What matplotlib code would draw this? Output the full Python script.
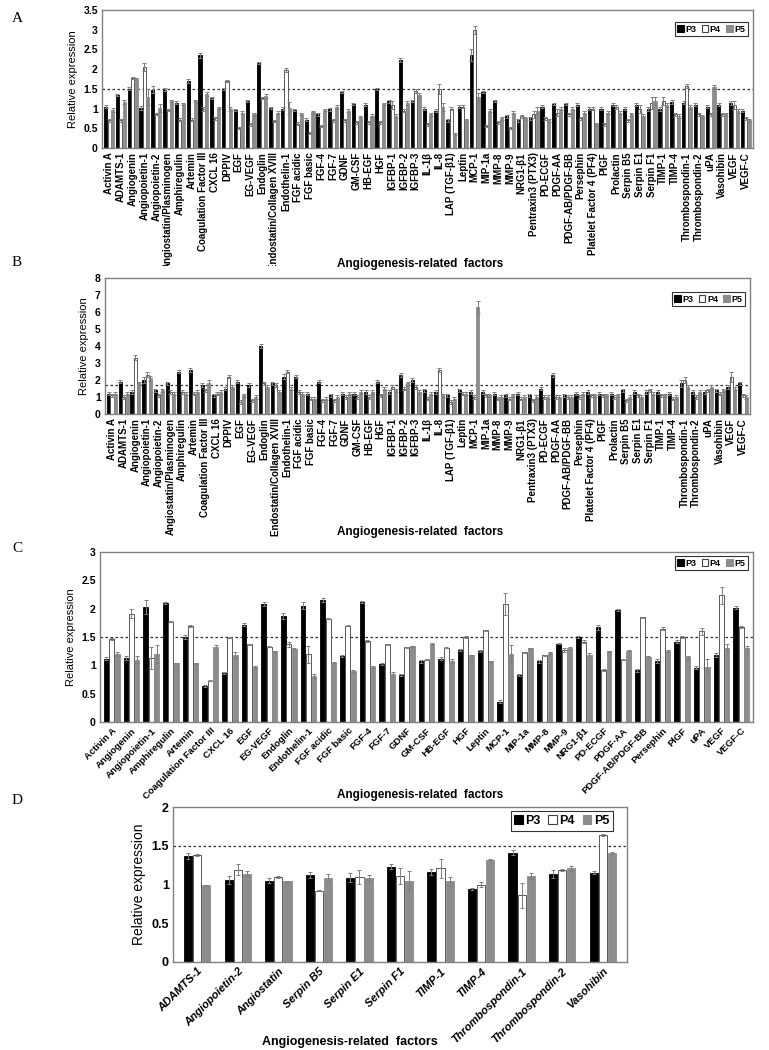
import matplotlib
matplotlib.use('Agg')
import matplotlib.pyplot as plt
import numpy as np
from matplotlib.patches import Patch
from matplotlib.transforms import Bbox, TransformedBbox
from matplotlib.ticker import FuncFormatter

plt.rc('font', family='Liberation Sans', weight='bold', size=7)

############################################
# Data
factors_ab = ['Activin A', 'ADAMTS-1', 'Angiogenin', 'Angiopoietin-1', 'Angiopoietin-2',
              'Angiostatin/Plasminogen', 'Amphiregulin', 'Artemin', 'Coagulation Factor III', 'CXCL 16',
              'DPPIV', 'EGF', 'EG-VEGF', 'Endoglin', 'Endostatin/Collagen XVIII',
              'Endothelin-1', 'FGF acidic', 'FGF basic', 'FGF-4', 'FGF-7',
              'GDNF', 'GM-CSF', 'HB-EGF', 'HGF', 'IGFBP-1',
              'IGFBP-2', 'IGFBP-3', 'IL-1β', 'IL-8', 'LAP (TGF-β1)',
              'Leptin', 'MCP-1', 'MIP-1a', 'MMP-8', 'MMP-9',
              'NRG1-β1', 'Pentraxin3 (PTX3)', 'PD-ECGF', 'PDGF-AA', 'PDGF-AB/PDGF-BB',
              'Persephin', 'Platelet Factor 4 (PF4)', 'PlGF', 'Prolactin', 'Serpin B5',
              'Serpin E1', 'Serpin F1', 'TIMP-1', 'TIMP-4', 'Thrombospondin-1',
              'Thrombospondin-2', 'uPA', 'Vasohibin', 'VEGF', 'VEGF-C']

a_p3 = [1.05, 1.35, 1.5, 1.02, 1.48, 1.48, 1.15, 1.7, 2.35, 1.27,
        1.5, 0.97, 1.2, 2.15, 1.02, 1.0, 0.97, 0.72, 0.85, 0.98,
        1.42, 1.12, 1.1, 1.5, 1.18, 2.22, 1.2, 1.0, 0.95, 0.7,
        1.05, 2.35, 1.42, 1.2, 0.8, 0.7, 0.75, 1.05, 1.12, 1.12,
        1.1, 1.0, 1.0, 1.1, 1.0, 1.1, 1.0, 1.0, 1.17, 1.15,
        1.1, 1.05, 1.1, 1.15, 0.95]
a_p4 = [0.7, 0.7, 1.77, 2.05, 0.87, 0.97, 0.72, 0.72, 1.0, 0.75,
        1.7, 0.5, 0.6, 1.27, 0.68, 1.97, 0.62, 0.38, 0.55, 0.7,
        0.7, 0.65, 0.65, 0.65, 1.08, 0.95, 1.45, 0.6, 1.5, 1.0,
        1.05, 3.0, 0.55, 0.65, 0.5, 0.8, 0.85, 0.75, 0.9, 0.85,
        0.75, 1.0, 0.6, 1.05, 0.7, 1.0, 1.15, 1.2, 0.85, 1.57,
        0.85, 0.85, 0.85, 1.1, 0.75]
a_p5 = [0.97, 1.17, 1.75, 1.3, 1.02, 1.2, 1.12, 1.2, 1.38, 1.02,
        1.0, 0.9, 0.85, 1.33, 0.9, 1.02, 0.87, 0.92, 0.97, 1.05,
        0.95, 0.78, 0.82, 1.12, 0.8, 1.15, 1.35, 0.85, 1.05, 0.35,
        0.7, 1.3, 0.95, 0.75, 0.9, 0.75, 0.95, 0.7, 1.0, 1.0,
        0.9, 0.6, 0.9, 0.9, 0.85, 0.8, 1.2, 1.1, 0.8, 1.05,
        0.8, 1.55, 0.85, 0.95, 0.7]
a_e3 = [0.03, 0.03, 0.04, 0.05, 0.08, 0.03, 0.03, 0.05, 0.07, 0.03,
        0.03, 0.02, 0.03, 0.03, 0.03, 0.03, 0.03, 0.03, 0.03, 0.03,
        0.03, 0.03, 0.03, 0.03, 0.03, 0.05, 0.03, 0.03, 0.03, 0.03,
        0.03, 0.15, 0.03, 0.03, 0.03, 0.03, 0.03, 0.03, 0.03, 0.03,
        0.03, 0.03, 0.03, 0.03, 0.03, 0.03, 0.05, 0.05, 0.05, 0.03,
        0.03, 0.03, 0.03, 0.05, 0.03]
a_e4 = [0.03, 0.03, 0.03, 0.1, 0.03, 0.03, 0.03, 0.03, 0.05, 0.03,
        0.03, 0.03, 0.03, 0.03, 0.03, 0.05, 0.03, 0.03, 0.03, 0.03,
        0.03, 0.03, 0.03, 0.03, 0.1, 0.03, 0.05, 0.03, 0.12, 0.03,
        0.03, 0.1, 0.03, 0.03, 0.03, 0.03, 0.1, 0.03, 0.1, 0.03,
        0.03, 0.03, 0.03, 0.05, 0.03, 0.1, 0.15, 0.1, 0.03, 0.05,
        0.03, 0.03, 0.03, 0.1, 0.03]
a_e5 = [0.05, 0.05, 0.03, 0.2, 0.1, 0.03, 0.03, 0.03, 0.05, 0.03,
        0.05, 0.03, 0.03, 0.05, 0.03, 0.15, 0.03, 0.03, 0.03, 0.05,
        0.03, 0.03, 0.03, 0.03, 0.05, 0.05, 0.05, 0.03, 0.1, 0.03,
        0.03, 0.1, 0.03, 0.03, 0.03, 0.03, 0.1, 0.03, 0.03, 0.03,
        0.03, 0.03, 0.03, 0.03, 0.03, 0.05, 0.1, 0.05, 0.05, 0.05,
        0.03, 0.05, 0.03, 0.05, 0.03]

b_p3 = [1.2, 1.9, 1.3, 2.0, 1.4, 1.8, 2.5, 2.6, 1.7, 1.1,
        1.5, 1.9, 1.7, 4.0, 1.8, 2.2, 2.2, 1.2, 1.9, 1.1,
        1.2, 1.2, 1.3, 1.9, 1.3, 2.3, 2.0, 1.4, 1.3, 1.1,
        1.4, 1.3, 1.3, 1.2, 1.1, 1.2, 1.1, 1.5, 2.3, 1.1,
        1.2, 1.3, 1.2, 1.2, 1.4, 1.3, 1.3, 1.3, 1.2, 1.8,
        1.3, 1.3, 1.4, 1.6, 1.8]
b_p4 = [1.1, 1.0, 3.3, 2.3, 1.1, 1.3, 1.3, 1.2, 1.4, 1.2,
        2.2, 0.7, 0.8, 1.8, 1.7, 2.5, 1.3, 0.9, 0.8, 0.8,
        1.0, 1.0, 1.0, 1.1, 1.6, 1.5, 1.6, 0.9, 2.6, 0.7,
        1.2, 1.0, 1.1, 0.9, 0.9, 0.9, 0.8, 1.0, 1.0, 1.0,
        1.0, 1.1, 1.1, 1.0, 0.8, 1.1, 1.4, 1.1, 0.9, 2.0,
        1.0, 1.4, 1.2, 2.2, 1.1]
b_p5 = [1.2, 1.2, 1.8, 2.1, 1.4, 1.2, 1.2, 1.3, 1.8, 1.3,
        1.6, 1.1, 1.0, 1.6, 1.3, 1.5, 1.2, 0.9, 0.9, 1.0,
        1.2, 1.3, 1.3, 1.5, 1.4, 1.8, 1.3, 1.2, 1.1, 0.9,
        1.2, 6.3, 1.1, 1.0, 1.1, 1.0, 1.0, 1.0, 1.0, 1.0,
        1.2, 1.1, 1.1, 1.1, 1.0, 1.0, 1.2, 1.1, 1.0, 1.6,
        1.3, 1.6, 1.4, 1.5, 1.0]
b_e3 = [0.1, 0.1, 0.1, 0.15, 0.1, 0.1, 0.1, 0.1, 0.1, 0.1,
        0.1, 0.1, 0.1, 0.1, 0.1, 0.15, 0.1, 0.1, 0.1, 0.1,
        0.1, 0.1, 0.1, 0.1, 0.1, 0.1, 0.1, 0.1, 0.1, 0.1,
        0.1, 0.1, 0.1, 0.1, 0.1, 0.1, 0.1, 0.1, 0.1, 0.1,
        0.1, 0.1, 0.1, 0.1, 0.1, 0.1, 0.1, 0.1, 0.1, 0.2,
        0.1, 0.1, 0.1, 0.1, 0.1]
b_e4 = [0.1, 0.1, 0.15, 0.15, 0.1, 0.1, 0.1, 0.1, 0.1, 0.1,
        0.1, 0.1, 0.1, 0.1, 0.1, 0.1, 0.1, 0.1, 0.1, 0.1,
        0.1, 0.1, 0.1, 0.1, 0.1, 0.1, 0.1, 0.1, 0.1, 0.1,
        0.1, 0.1, 0.1, 0.1, 0.1, 0.1, 0.1, 0.1, 0.1, 0.1,
        0.1, 0.1, 0.1, 0.1, 0.1, 0.1, 0.1, 0.1, 0.1, 0.2,
        0.1, 0.1, 0.1, 0.3, 0.1]
b_e5 = [0.1, 0.1, 0.1, 0.15, 0.1, 0.1, 0.1, 0.1, 0.2, 0.1,
        0.1, 0.1, 0.1, 0.1, 0.1, 0.1, 0.1, 0.1, 0.1, 0.1,
        0.1, 0.1, 0.1, 0.1, 0.1, 0.1, 0.1, 0.1, 0.1, 0.1,
        0.1, 0.35, 0.1, 0.1, 0.1, 0.1, 0.1, 0.1, 0.1, 0.1,
        0.1, 0.1, 0.1, 0.1, 0.1, 0.1, 0.1, 0.1, 0.1, 0.1,
        0.1, 0.1, 0.1, 0.1, 0.1]

factors_c = ['Activin A', 'Angiogenin', 'Angiopoietin-1', 'Amphiregulin', 'Artemin',
             'Coagulation Factor III', 'CXCL 16', 'EGF', 'EG-VEGF', 'Endoglin',
             'Endothelin-1', 'FGF acidic', 'FGF basic', 'FGF-4', 'FGF-7',
             'GDNF', 'GM-CSF', 'HB-EGF', 'HGF', 'Leptin',
             'MCP-1', 'MIP-1a', 'MMP-8', 'MMP-9', 'NRG1-β1',
             'PD-ECGF', 'PDGF-AA', 'PDGF-AB/PDGF-BB', 'Persephin', 'PlGF',
             'uPA', 'VEGF', 'VEGF-C']
c_p3 = [1.12, 1.13, 2.03, 2.1, 1.5, 0.64, 0.87, 1.72, 2.08, 1.87,
        2.05, 2.15, 1.17, 2.12, 1.02, 0.83, 1.07, 1.12, 1.27, 1.25,
        0.36, 0.83, 1.07, 1.38, 1.5, 1.67, 1.98, 0.91, 1.08, 1.42,
        0.96, 1.18, 2.02]
c_p4 = [1.47, 1.91, 1.13, 1.77, 1.7, 0.73, 1.49, 1.37, 1.33, 1.37,
        1.2, 1.82, 1.7, 1.43, 1.37, 1.32, 1.1, 1.31, 1.5, 1.62,
        2.08, 1.23, 1.18, 1.27, 1.42, 0.92, 1.1, 1.85, 1.65, 1.5,
        1.6, 2.24, 1.68]
c_p5 = [1.2, 1.1, 1.2, 1.04, 1.04, 1.33, 1.18, 0.97, 1.25, 1.29,
        0.81, 1.05, 0.9, 0.97, 0.85, 1.34, 1.38, 1.08, 1.18, 1.07,
        1.2, 1.3, 1.22, 1.3, 1.18, 1.25, 1.26, 1.15, 1.25, 1.14,
        0.97, 1.31, 1.31]
c_e3 = [0.03, 0.03, 0.12, 0.02, 0.04, 0.02, 0.02, 0.02, 0.03, 0.06,
        0.06, 0.03, 0.02, 0.02, 0.02, 0.02, 0.02, 0.02, 0.02, 0.02,
        0.03, 0.01, 0.02, 0.01, 0.02, 0.04, 0.02, 0.02, 0.03, 0.03,
        0.02, 0.03, 0.02]
c_e4 = [0.02, 0.08, 0.2, 0.01, 0.02, 0.01, 0.01, 0.01, 0.01, 0.04,
        0.15, 0.01, 0.01, 0.01, 0.01, 0.01, 0.01, 0.01, 0.02, 0.01,
        0.2, 0.01, 0.01, 0.03, 0.02, 0.02, 0.01, 0.01, 0.02, 0.02,
        0.06, 0.15, 0.02]
c_e5 = [0.03, 0.06, 0.16, 0.01, 0.01, 0.03, 0.05, 0.01, 0.01, 0.01,
        0.04, 0.01, 0.01, 0.01, 0.03, 0.01, 0.02, 0.03, 0.01, 0.01,
        0.16, 0.01, 0.02, 0.03, 0.03, 0.01, 0.01, 0.01, 0.02, 0.02,
        0.14, 0.06, 0.03]

factors_d = ['ADAMTS-1', 'Angiopoietin-2', 'Angiostatin', 'Serpin B5', 'Serpin E1', 'Serpin F1',
             'TIMP-1', 'TIMP-4', 'Thrombospondin-1', 'Thrombospondin-2', 'Vasohibin']
d_p3 = [1.37, 1.06, 1.05, 1.12, 1.09, 1.23, 1.16, 0.94, 1.41, 1.14, 1.15]
d_p4 = [1.38, 1.19, 1.10, 0.92, 1.10, 1.11, 1.21, 1.00, 0.86, 1.19, 1.64]
d_p5 = [0.99, 1.14, 1.04, 1.09, 1.08, 1.05, 1.04, 1.32, 1.11, 1.21, 1.41]
d_e3 = [0.04, 0.05, 0.03, 0.04, 0.06, 0.03, 0.04, 0.01, 0.03, 0.05, 0.02]
d_e4 = [0.01, 0.07, 0.01, 0.005, 0.09, 0.10, 0.12, 0.03, 0.16, 0.01, 0.01]
d_e5 = [0.01, 0.03, 0.01, 0.04, 0.04, 0.12, 0.06, 0.01, 0.04, 0.03, 0.01]

series = ['P3', 'P4', 'P5']
############################################

W, H = 769, 1050
face = ['#000000', '#ffffff', '#8c8c8c']
edge = ['#000000', '#404040', '#8c8c8c']


def box(l, t, r, b):
  # pixel box (top-left origin) -> figure fraction rect
  return [l / W, 1 - b / H, (r - l) / W, (b - t) / H]


def Panel(fig, rect, cats, vals, errs, ymax, ystep, thr, bw, rot, tsize, leg, lsize,
          italic=False, ysize=7.5, ylsize=8):
  ax = fig.add_axes(box(*rect))
  x = np.arange(len(cats))
  for i in range(3):
    xs = x + (i - 1) * bw * 1.12
    ax.bar(xs, vals[i], bw, color=face[i], edgecolor=edge[i], linewidth=0.6, zorder=2)
    ax.errorbar(xs, vals[i], yerr=errs[i], fmt='none', ecolor='#7f7f7f', elinewidth=0.7,
                capsize=1.5, capthick=0.7, zorder=3)
  ax.axhline(thr, color='#303030', ls=(0, (2, 2)), lw=0.9, zorder=1)
  ax.set_xlim(-0.6, len(cats) - 0.4)
  ax.set_ylim(0, ymax)
  ax.set_yticks(np.arange(0, ymax + ystep / 2, ystep))
  ax.yaxis.set_major_formatter(FuncFormatter(lambda v, p: '%g' % v))
  ax.set_xticks(x)
  if rot == 90:
    ax.set_xticklabels(cats, rotation=90, fontsize=tsize)
  else:
    ax.set_xticklabels(cats, rotation=rot, ha='right', rotation_mode='anchor', fontsize=tsize,
                       fontstyle='italic' if italic else 'normal')
  ax.tick_params(length=0, pad=3)
  ax.tick_params(axis='y', labelsize=ysize)
  for s in ax.spines.values():
    s.set_color('#808080')
    s.set_linewidth(1.0)
  ax.set_ylabel('Relative expression', fontsize=ylsize, labelpad=4)
  hs = [Patch(facecolor=face[i], edgecolor=edge[i], linewidth=0.8) for i in range(3)]
  lg = ax.legend(hs, series, ncol=3, loc='upper right', bbox_to_anchor=(leg[0] / W, 1 - leg[1] / H),
                 bbox_transform=fig.transFigure, fontsize=lsize, frameon=True, fancybox=False,
                 edgecolor='black', handlelength=0.7, handleheight=0.7, handletextpad=0.2,
                 columnspacing=0.6, borderpad=0.3, borderaxespad=0)
  lg.get_frame().set_linewidth(0.8)
  return ax


def Plot():
  fig = plt.figure(figsize=(W / 100, H / 100), dpi=100)

  axA = Panel(fig, (102, 10, 753, 148), factors_ab, [a_p3, a_p4, a_p5], [a_e3, a_e4, a_e5],
              3.5, 0.5, 1.5, 0.26, 90, 7, (748, 22), 6.5)
  # the top panel is cut just under its axis title
  clip = TransformedBbox(Bbox([[0, 1 - 266 / H], [1, 1]]), fig.transFigure)
  for t in axA.get_xticklabels():
    t.set_clip_box(clip)
    t.set_clip_on(True)

  Panel(fig, (105, 278, 750, 414), factors_ab, [b_p3, b_p4, b_p5], [b_e3, b_e4, b_e5],
        8, 1, 1.7, 0.26, 90, 7, (745, 292), 6.5)
  Panel(fig, (100, 552, 753, 722), factors_c, [c_p3, c_p4, c_p5], [c_e3, c_e4, c_e5],
        3, 0.5, 1.5, 0.25, 45, 6.8, (748, 556), 6.5)
  Panel(fig, (173, 807, 627, 962), factors_d, [d_p3, d_p4, d_p5], [d_e3, d_e4, d_e5],
        2, 0.5, 1.5, 0.2, 45, 8, (613, 811), 9, italic=True, ysize=9, ylsize=10)

  for y in [264, 532, 795]:
    fig.text(420 / W, 1 - y / H, 'Angiogenesis-related  factors', ha='center', va='center', fontsize=8.5)
  fig.text(350 / W, 1 - 1042 / H, 'Angiogenesis-related  factors', ha='center', va='center', fontsize=9)

  for lab, y in zip('ABCD', [18, 262, 549, 800]):
    fig.text(12 / W, 1 - y / H, lab, family='Liberation Serif', weight='normal', fontsize=11,
             ha='left', va='center')

  fig.savefig('out.png', dpi=100)


if __name__ == '__main__':
  Plot()
